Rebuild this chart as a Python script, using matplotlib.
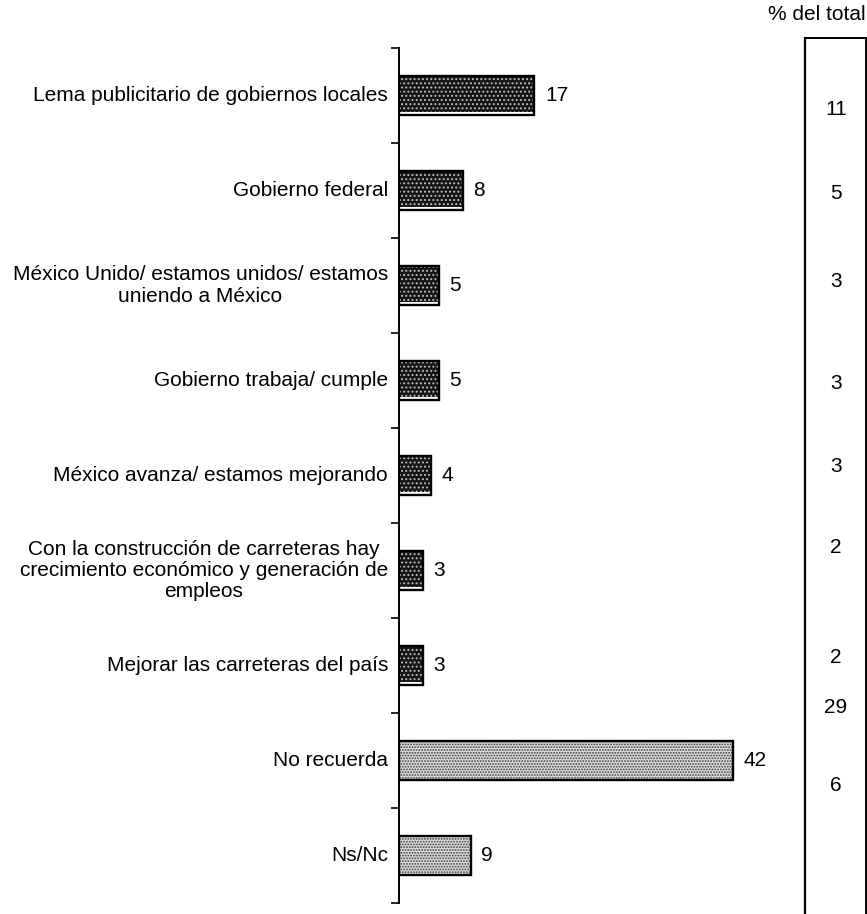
import matplotlib
matplotlib.use("Agg")
import matplotlib.pyplot as plt
from matplotlib.lines import Line2D

plt.rcParams['font.family'] = ['Liberation Sans', 'DejaVu Sans']
plt.rcParams['hatch.linewidth'] = 0.9

categories = [
    "Lema publicitario de gobiernos locales",
    "Gobierno federal",
    "México Unido/ estamos unidos/ estamos\nuniendo a México",
    "Gobierno trabaja/ cumple",
    "México avanza/ estamos mejorando",
    "Con la construcción de carreteras hay\ncrecimiento económico y generación de\nempleos",
    "Mejorar las carreteras del país",
    "No recuerda",
    "Ns/Nc",
]
values = [17, 8, 5, 5, 4, 3, 3, 42, 9]
pct_total = [11, 5, 3, 3, 3, 2, 2, 29, 6]
dark_rows = [True, True, True, True, True, True, True, False, False]

# vertical placement of the "% del total" column entries (row units)
total_rows_y = [0.15, 1.03, 1.96, 3.03, 3.91, 4.76, 5.92, 6.44, 7.26]

FS = 15
W, H = 867, 914
fig = plt.figure(figsize=(W / 100, H / 100), dpi=100)

x0, x_end = 399, 790
y_top, y_bot = 48, 903
ax = fig.add_axes([x0 / W, 1 - y_bot / H, (x_end - x0) / W, (y_bot - y_top) / H])
px_per_unit = (733 - 399) / 42
ax.set_xlim(0, (x_end - x0) / px_per_unit)
n = len(categories)
ax.set_ylim(n - 0.5, -0.5)

bar_h = 0.42
for i, (v, dark) in enumerate(zip(values, dark_rows)):
    if dark:
        ax.barh(i - 0.02, v, height=bar_h - 0.04, color="#161616", edgecolor="none", zorder=2)
        ax.barh(i - 0.02, v, height=bar_h - 0.04, color="none", edgecolor="#bdbdbd",
                hatch="....", linewidth=0, zorder=3)
    else:
        ax.barh(i, v, height=bar_h, color="#dcdcdc", edgecolor="none", zorder=2)
        ax.barh(i, v, height=bar_h, color="none", edgecolor="#3c3c3c",
                hatch="......", linewidth=0, zorder=3)
    ax.barh(i, v, height=bar_h, color="none", edgecolor="black", linewidth=1.7, zorder=4)
    ax.text(v + 1.35, i, str(v), va="center", ha="left", fontsize=FS)

ax.set_yticks([i + 0.5 for i in range(-1, n)])
ax.set_yticklabels([])
ax.tick_params(axis="y", direction="out", length=6, width=1.2)
ax.set_xticks([])
for s in ["top", "right", "bottom"]:
    ax.spines[s].set_visible(False)
ax.spines["left"].set_linewidth(1.4)

for i, lab in enumerate(categories):
    ax.text(-11 / px_per_unit, i, lab, ha="right", va="center",
            multialignment="center", fontsize=FS, linespacing=1.15)

# "% del total" side column
bx0, bx1, by0 = 805, 866, 38
fig.add_artist(Line2D([bx0 / W, bx0 / W], [1 - by0 / H, 0], color="black", lw=1.6))
fig.add_artist(Line2D([bx1 / W, bx1 / W], [1 - by0 / H, 0], color="black", lw=1.4))
fig.add_artist(Line2D([bx0 / W, bx1 / W], [1 - by0 / H, 1 - by0 / H], color="black", lw=1.4))
fig.text(866 / W, 1 - 14 / H, "% del total", ha="right", va="center", fontsize=FS)

for yy, p in zip(total_rows_y, pct_total):
    ypx = y_top + (yy + 0.5) * (y_bot - y_top) / n
    fig.text(836 / W, 1 - ypx / H, str(p), ha="center", va="center", fontsize=FS)

fig.savefig("out.png", dpi=100)
